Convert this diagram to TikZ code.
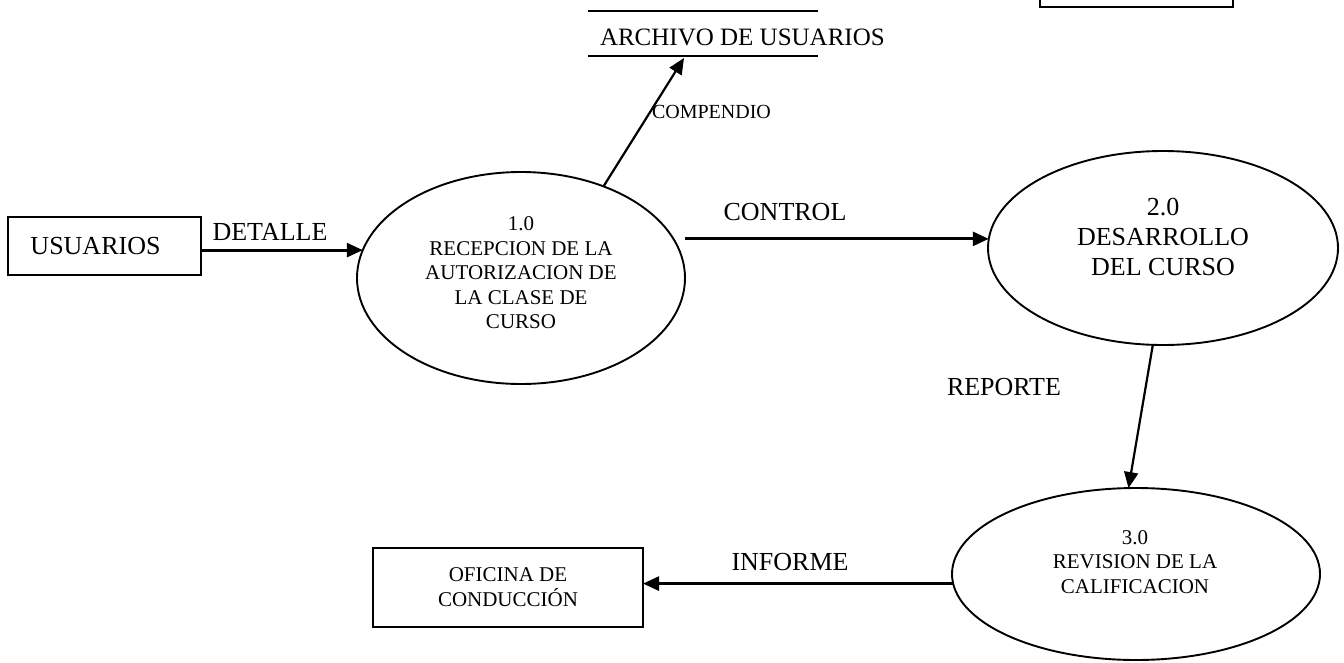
\documentclass[tikz,border=0pt]{standalone}
\usepackage{fontspec}
\setmainfont{Liberation Serif}
\usetikzlibrary{arrows.meta,shapes.geometric}
\begin{document}
\begin{tikzpicture}[x=1pt,y=-1pt,
  every node/.style={inner sep=0pt,outer sep=0pt},
  proc/.style={draw,line width=1.9pt,ellipse},
  ent/.style={draw,line width=1.9pt,rectangle},
  tipA/.style={-{Triangle[length=16pt,width=14pt]}},
  flow/.style={line width=2.8pt,tipA},
  thinflow/.style={line width=2.2pt,tipA},
  storeline/.style={line width=2.2pt},
  big/.style={font=\fontsize{26}{30}\selectfont,align=center},
  small/.style={font=\fontsize{21}{24.5}\selectfont,align=center},
  tiny/.style={font=\fontsize{20}{24}\selectfont}
]
\useasboundingbox (0,0) rectangle (1344,662);

% processes
\node[proc,minimum width=328pt,minimum height=212pt] (p1) at (521,278) {};
\node[proc,minimum width=350pt,minimum height=194pt] (p2) at (1163,248) {};
\node[proc,minimum width=368pt,minimum height=172pt] (p3) at (1136,574) {};

\node[small] (t1) at (521,273) {1.0\\RECEPCION DE LA\\AUTORIZACION DE\\LA CLASE DE\\CURSO};
\node[big] (t2) at (1163,237) {2.0\\DESARROLLO\\DEL CURSO};
\node[small] (t3) at (1135,562) {3.0\\REVISION DE LA\\CALIFICACION};

% entities
\node[ent,minimum width=193pt,minimum height=58pt] (usu) at (104.5,246) {};
\node[big] (usut) at (95.5,246) {USUARIOS};
\node[ent,small,minimum width=270pt,minimum height=79pt,font=\fontsize{21}{25}\selectfont] (ofi) at (508,587.5) {OFICINA DE\\CONDUCCIÓN};
\node[ent,minimum width=193pt,minimum height=80pt] (topbox) at (1136.5,-33) {};

% data store
\node[minimum width=230pt,minimum height=45pt] (store) at (703,33.5) {};
\draw[storeline] (store.north west) -- (store.north east);
\draw[storeline] (store.south west) -- (store.south east);
\node[font=\fontsize{25}{30}\selectfont,anchor=west] (storet) at (600,37) {ARCHIVO DE USUARIOS};

% flows
\draw[flow] (usu.east |- p1.170) -- (p1.170);
\node[big] (ldet) at (270,232) {DETALLE};

\draw[flow] (p1.east |- p2.177) -- (p2.177);
\node[big] (lcon) at (785,212) {CONTROL};

\draw[thinflow] (p1.48) -- ([xshift=-19pt,yshift=-2pt]store.south);
\node[tiny,anchor=west] (lcomp) at (652,112) {COMPENDIO};

\draw[thinflow] (p2.264) -- (p3.95);
\node[big] (lrep) at (1004,387) {REPORTE};

\draw[flow] (p3.183) -- (p3.183 -| ofi.east);
\node[big] (linf) at (790,562) {INFORME};
\end{tikzpicture}
\end{document}
